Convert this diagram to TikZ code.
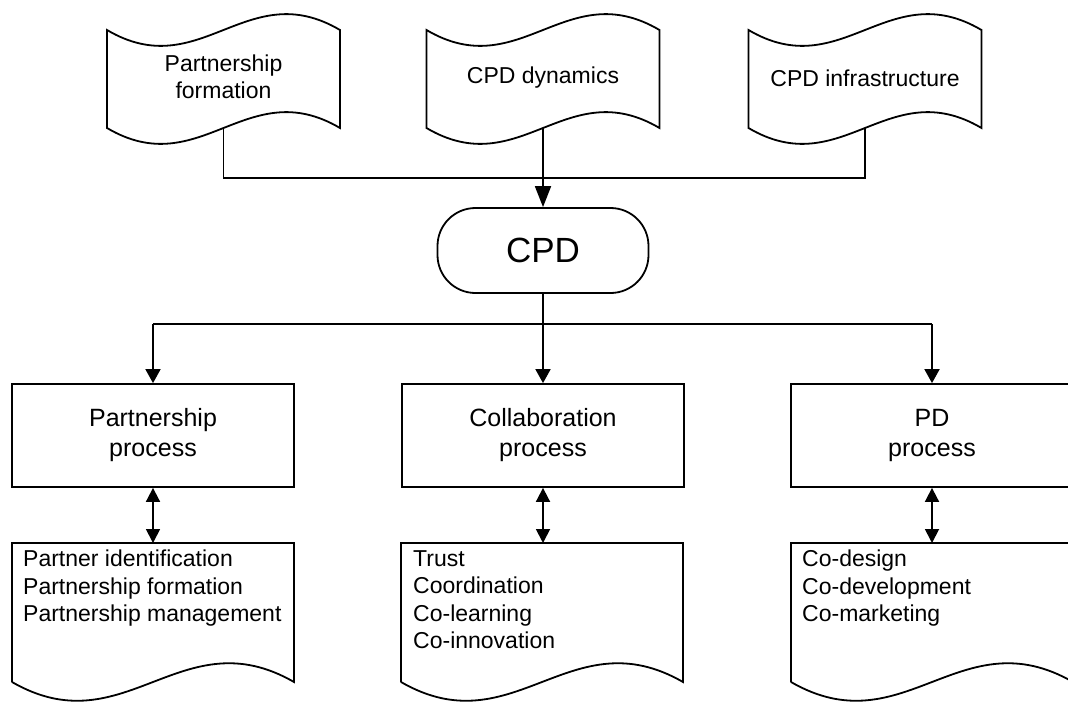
\documentclass[tikz,border=0pt]{standalone}
\usepackage{fontspec}
\setmainfont{Liberation Sans}
\usetikzlibrary{arrows.meta}
\newcommand\tapeshape[1]{\draw[shapeline] (#1,30) .. controls ({#1+93.2},85) and ({#1+139.8},-25) .. ({#1+233},30) -- ({#1+233},128) .. controls ({#1+139.8},73) and ({#1+93.2},183) .. (#1,128) -- cycle;}
\newcommand\docshape[1]{\draw[shapeline] (#1,682) -- (#1,543) -- ({#1+282},543) -- ({#1+282},682) .. controls ({#1+169.2},617) and ({#1+112.8},747) .. (#1,682);}
\tikzset{
  shapeline/.style={line width=1.8pt, line join=miter},
  conn/.style={line width=1.8pt},
  arr/.style={conn, -{Triangle[length=14pt,width=15pt]}},
  bigarr/.style={conn, -{Triangle[length=21pt,width=16pt]}},
  darr/.style={conn, {Triangle[length=14pt,width=14pt]}-{Triangle[length=14pt,width=14pt]}},
  procbox/.style={draw, line width=1.8pt, minimum width=282pt, minimum height=103pt, align=center, inner sep=0pt, font=\fontsize{25}{30}\selectfont},
  termbox/.style={draw, line width=1.8pt, minimum width=211pt, minimum height=85pt, rounded corners=38pt, inner sep=0pt, font=\fontsize{35}{40}\selectfont},
  tapetxt/.style={align=center, inner sep=0pt, font=\fontsize{23}{27}\selectfont},
  doctxt/.style={align=left, anchor=north west, inner sep=0pt, font=\fontsize{23}{27.5}\selectfont}
}
\begin{document}
\begin{tikzpicture}[x=1pt,y=-1pt]
\useasboundingbox (0,0) rectangle (1068,702);
\fill[white] (0,0) rectangle (1068,702);
% tapes
\tapeshape{107}
\tapeshape{426.5}
\tapeshape{748.5}
\node[tapetxt] (t1) at (223.5,77) {Partnership\\formation};
\node[tapetxt] (t2) at (543,78) {CPD dynamics};
\node[tapetxt] (t3) at (865,78) {CPD infrastructure};
\coordinate (t1b) at (223.5,128);
\coordinate (t2b) at (543,128);
\coordinate (t3b) at (865,128);
\coordinate (tj) at (543,178);
% CPD
\node[termbox] (cpd) at (543,250.5) {CPD};
% process boxes
\node[procbox] (box1) at (153,435.5) {Partnership\\process};
\node[procbox] (box2) at (543,435.5) {Collaboration\\process};
\node[procbox] (box3) at (932,435.5) {PD\\process};
% documents
\docshape{12}
\docshape{401}
\docshape{791}
\coordinate (d1) at (153,543);
\coordinate (d2) at (543,543);
\coordinate (d3) at (932,543);
\node[doctxt] (l1) at (23,550) {Partner identification\\Partnership formation\\Partnership management};
\node[doctxt] (l2) at (413,550) {Trust\\Coordination\\Co-learning\\Co-innovation};
\node[doctxt] (l3) at (802,550) {Co-design\\Co-development\\Co-marketing};
% connectors top
\draw[conn] (t1b) |- (tj) -| (t3b);
\draw[bigarr] (t2b) -- (cpd.north);
% connectors middle
\coordinate (busL) at (153,324);
\coordinate (busR) at (932,324);
\draw[conn] (busL) -- (busR);
\draw[arr] (busL) -- (box1.north);
\draw[arr] (busR) -- (box3.north);
\draw[arr] (cpd.south) -- (box2.north);
% double arrows
\draw[darr] (box1.south) -- (d1);
\draw[darr] (box2.south) -- (d2);
\draw[darr] (box3.south) -- (d3);
\end{tikzpicture}
\end{document}
